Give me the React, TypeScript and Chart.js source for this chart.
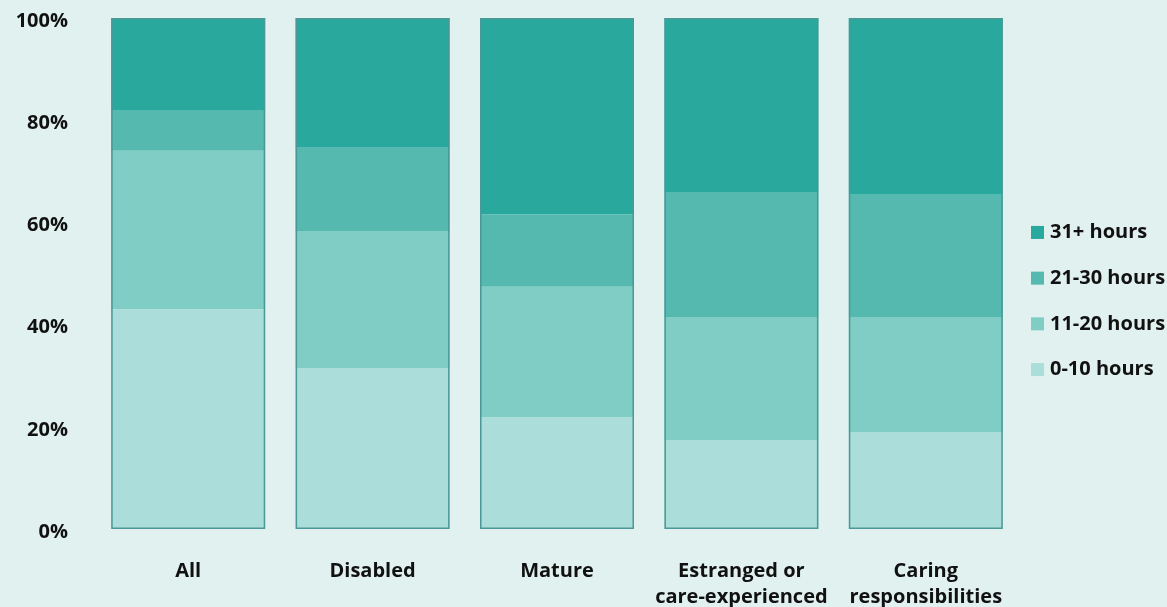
import React, { useEffect, useRef } from "react";
import { Chart, registerables } from "chart.js";

Chart.register(...registerables);

const categories: (string | string[])[] = [
  "All",
  "Disabled",
  "Mature",
  ["Estranged or", "care-experienced"],
  ["Caring", "responsibilities"],
];

const hours0to10 = [43.0, 31.5, 21.9, 17.4, 19.0];
const hours11to20 = [31.0, 26.8, 25.5, 24.1, 22.5];
const hours21to30 = [8.0, 16.3, 14.2, 24.3, 23.9];
const hours31plus = [18.0, 25.4, 38.4, 34.2, 34.6];

const seriesLabels = ["0-10 hours", "11-20 hours", "21-30 hours", "31+ hours"];
const seriesColors = ["#abdeda", "#7fcdc4", "#55b9b0", "#29a89e"];

const yTicks = [0, 20, 40, 60, 80, 100];

const FONT = "'Open Sans', Lato, sans-serif";
const FS = 20;

const outlinePlugin = {
  id: "stackOutline",
  afterDatasetsDraw(chart: any) {
    const ctx = chart.ctx;
    const n = chart.data.datasets.length;
    const bottomMeta = chart.getDatasetMeta(0);
    const topMeta = chart.getDatasetMeta(n - 1);
    ctx.save();
    ctx.strokeStyle = "#4b9896";
    ctx.lineWidth = 1.5;
    bottomMeta.data.forEach((bar: any, i: number) => {
      const top = topMeta.data[i];
      const w = bar.width;
      const x0 = bar.x - w / 2;
      const y0 = top.y;
      const y1 = bar.base;
      ctx.strokeRect(x0 + 0.75, y0 + 0.75, w - 1.5, y1 - y0 - 1.5);
    });
    ctx.restore();
  },
};

const sideLegendPlugin = {
  id: "sideLegend",
  afterDraw(chart: any) {
    const ctx = chart.ctx;
    const ds = chart.data.datasets;
    const n = ds.length;
    const spacing = 45.7;
    const cy = chart.height / 2 - 2.5;
    const x = chart.chartArea.right + 13;
    ctx.save();
    ctx.font = `bold ${FS}px ${FONT}`;
    ctx.textBaseline = "middle";
    ctx.textAlign = "left";
    for (let k = 0; k < n; k++) {
      const d = ds[n - 1 - k];
      const y = cy + (k - (n - 1) / 2) * spacing;
      ctx.fillStyle = d.backgroundColor;
      ctx.fillRect(x, y - 6.5, 13, 13);
      ctx.fillStyle = "#111";
      ctx.fillText(d.label, x + 19, y);
    }
    ctx.restore();
  },
};

export default function App() {
  const ref = useRef<HTMLCanvasElement | null>(null);

  useEffect(() => {
    if (!ref.current) return;
    const datasets = [hours0to10, hours11to20, hours21to30, hours31plus].map(
      (data, i) => ({
        label: seriesLabels[i],
        data,
        backgroundColor: seriesColors[i],
        borderWidth: 0,
        barPercentage: 0.835,
        categoryPercentage: 1,
      })
    );
    const chart = new Chart(ref.current, {
      type: "bar",
      data: { labels: categories, datasets },
      plugins: [outlinePlugin, sideLegendPlugin],
      options: {
        animation: false,
        responsive: false,
        maintainAspectRatio: false,
        layout: { padding: { top: 18, right: 149, left: 0, bottom: 0 } },
        plugins: {
          legend: { display: false },
          tooltip: { enabled: false },
        },
        scales: {
          x: {
            stacked: true,
            grid: { display: false, drawTicks: false },
            border: { display: false },
            ticks: {
              color: "#111",
              padding: 29,
              maxRotation: 0,
              font: { family: FONT, size: FS, weight: "bold", lineHeight: 1.3 },
            },
            afterFit: (s: any) => {
              s.height = 78;
            },
          },
          y: {
            stacked: true,
            min: 0,
            max: 100,
            afterBuildTicks: (s: any) => {
              s.ticks = yTicks.map((v) => ({ value: v }));
            },
            grid: { display: false, drawTicks: true, tickLength: 28 },
            border: { display: false },
            ticks: {
              color: "#111",
              padding: 0,
              labelOffset: 3,
              font: { family: FONT, size: FS, weight: "bold" },
              callback: (v: any) => v + "%",
            },
            afterFit: (s: any) => {
              s.width = 96;
            },
          },
        },
      },
    });
    return () => chart.destroy();
  }, []);

  return (
    <div
      style={{
        position: "absolute",
        left: 0,
        top: 0,
        width: 1167,
        height: 607,
        background: "#e0f1ef",
      }}
    >
      <canvas ref={ref} width={1167} height={607} style={{ display: "block" }} />
    </div>
  );
}
